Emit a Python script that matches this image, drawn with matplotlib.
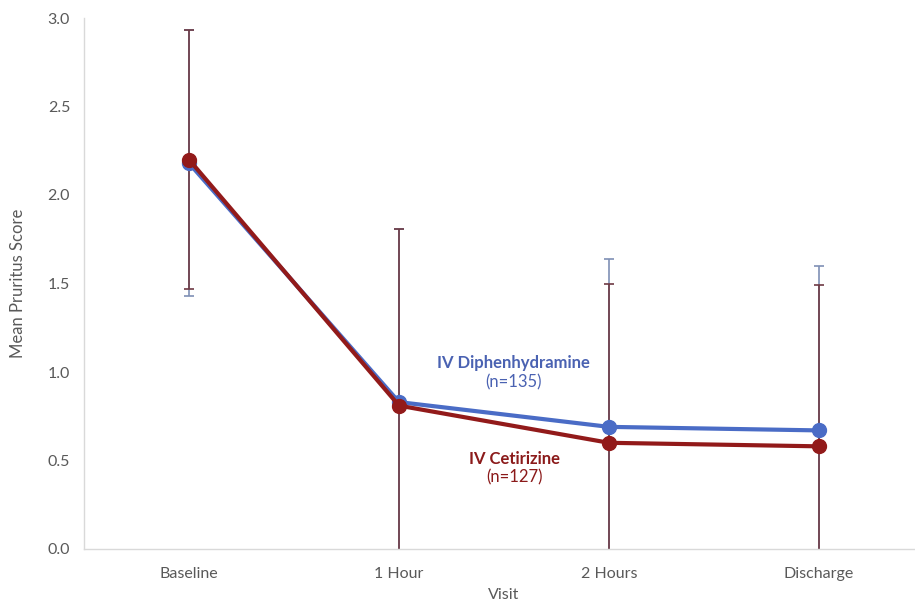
import matplotlib
matplotlib.use("Agg")
import matplotlib.pyplot as plt
import numpy as np

plt.rcParams['font.family'] = ['Lato', 'DejaVu Sans']

visits = ["Baseline", "1 Hour", "2 Hours", "Discharge"]
diph_mean = [2.18, 0.83, 0.69, 0.67]
diph_err = [0.75, 0.98, 0.95, 0.93]
cet_mean = [2.20, 0.81, 0.60, 0.58]
cet_err = [0.73, 1.00, 0.90, 0.91]
yticks = [0.0, 0.5, 1.0, 1.5, 2.0, 2.5, 3.0]

W, H = 915, 606
fig = plt.figure(figsize=(W / 100, H / 100), dpi=100)
ax = fig.add_axes([84 / W, (H - 549) / H, 840 / W, 531 / H])

x = np.arange(len(visits))
blue = "#4a6cc6"
red = "#921a1a"
blue_err = "#7f90b5"
red_err = "#6e3a44"

ax.errorbar(x, diph_mean, yerr=diph_err, fmt="none", ecolor=blue_err,
            elinewidth=1.2, capsize=3.5, capthick=1.2, zorder=1)
ax.errorbar(x, cet_mean, yerr=cet_err, fmt="none", ecolor=red_err,
            elinewidth=1.2, capsize=3.5, capthick=1.2, zorder=2)
ax.plot(x, diph_mean, color=blue, lw=3, marker="o", ms=10, zorder=3)
ax.plot(x, cet_mean, color=red, lw=3, marker="o", ms=10, zorder=4)

ax.set_xlim(-0.5, len(visits) - 0.5)
ax.set_ylim(0, 3.0)
ax.set_xticks(x)
ax.set_xticklabels(visits)
ax.set_yticks(yticks)
ax.set_yticklabels([f"{v:.1f}" for v in yticks])
ax.tick_params(axis="both", length=0, labelsize=11.5, colors="#595959")
ax.tick_params(axis="y", pad=10)
ax.tick_params(axis="x", pad=13)

for s in ["top", "right"]:
    ax.spines[s].set_visible(False)
for s in ["left", "bottom"]:
    ax.spines[s].set_color("#d9d9d9")
    ax.spines[s].set_linewidth(1.0)

ax.set_ylabel("Mean Pruritus Score", fontsize=12, color="#595959")
ax.yaxis.set_label_coords(-0.069, 0.5)
ax.set_xlabel("Visit", fontsize=11.5, color="#595959")
ax.xaxis.set_label_coords(0.5, -0.073)

ax.text(1.543, 1.05, "IV Diphenhydramine", color="#4a62b2", fontsize=12,
        fontweight="bold", ha="center", va="center")
ax.text(1.543, 0.943, "(n=135)", color="#4a62b2", fontsize=12,
        ha="center", va="center")
ax.text(1.552, 0.508, "IV Cetirizine", color="#8b1a1a", fontsize=12,
        fontweight="bold", ha="center", va="center")
ax.text(1.552, 0.407, "(n=127)", color="#8b1a1a", fontsize=12,
        ha="center", va="center")

fig.savefig("out.png", dpi=100)
